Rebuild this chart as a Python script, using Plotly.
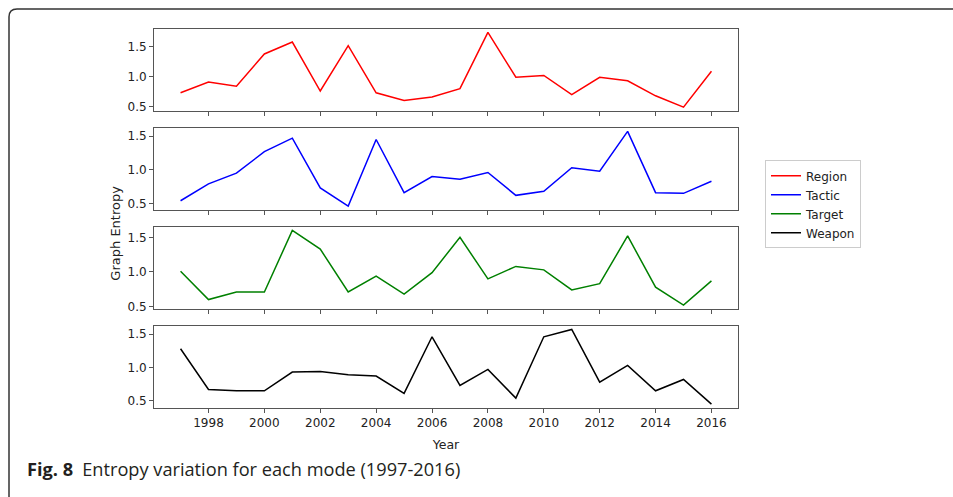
import plotly.graph_objects as go

years = list(range(1997, 2017))
region = [0.73, 0.91, 0.84, 1.38, 1.58, 0.76, 1.52, 0.73, 0.60, 0.66,
          0.80, 1.74, 0.99, 1.02, 0.70, 0.99, 0.93, 0.68, 0.49, 1.09]
tactic = [0.54, 0.79, 0.95, 1.27, 1.47, 0.73, 0.46, 1.45, 0.66, 0.90,
          0.86, 0.96, 0.62, 0.68, 1.03, 0.98, 1.57, 0.66, 0.65, 0.83]
target = [1.01, 0.60, 0.71, 0.71, 1.60, 1.33, 0.71, 0.94, 0.68, 0.99,
          1.50, 0.90, 1.08, 1.03, 0.74, 0.83, 1.52, 0.78, 0.52, 0.87]
weapon = [1.28, 0.67, 0.65, 0.65, 0.93, 0.94, 0.89, 0.87, 0.61, 1.46,
          0.73, 0.97, 0.54, 1.46, 1.57, 0.78, 1.03, 0.65, 0.82, 0.45]
series_names = ["Region", "Tactic", "Target", "Weapon"]
series_values = [region, tactic, target, weapon]
colors = ["#ff0000", "#0000ff", "#008000", "#000000"]
x_ticks = [1998, 2000, 2002, 2004, 2006, 2008, 2010, 2012, 2014, 2016]
y_ticks = [0.5, 1.0, 1.5]

W, H = 953, 497
def px(x):
    return x / W
def py(y):
    return 1 - y / H

panels = [(29, 112), (129, 212), (229, 312), (329, 412)]
x_left, x_right = 154, 738

fig = go.Figure()
layout = dict(
    width=W, height=H,
    margin=dict(l=0, r=0, t=0, b=0),
    paper_bgcolor="white", plot_bgcolor="white",
    font=dict(family="DejaVu Sans", size=12, color="#222"),
    showlegend=True,
)
span_x = years[-1] - years[0]
xr = [years[0] - 0.05 * span_x, years[-1] + 0.05 * span_x]
for i, (name, vals, col) in enumerate(zip(series_names, series_values, colors)):
    n = i + 1
    xa = "x" if n == 1 else f"x{n}"
    ya = "y" if n == 1 else f"y{n}"
    fig.add_trace(go.Scatter(x=years, y=vals, mode="lines", name=name,
                             line=dict(color=col, width=1.5),
                             xaxis=xa, yaxis=ya))
    lo, hi = min(vals), max(vals)
    sp = hi - lo
    top, bot = panels[i]
    axis_common = dict(showline=True, linecolor="#555", linewidth=1,
                       mirror=True, ticks="outside", ticklen=4,
                       tickcolor="#555", showgrid=False, zeroline=False)
    layout["xaxis" if n == 1 else f"xaxis{n}"] = dict(
        domain=[px(x_left), px(x_right)], anchor=ya, range=xr,
        tickvals=x_ticks, showticklabels=(n == 4),
        tickfont=dict(size=12, color="#222"),
        title=dict(text="Year", font=dict(size=12.5), standoff=10) if n == 4 else None,
        **axis_common)
    layout["yaxis" if n == 1 else f"yaxis{n}"] = dict(
        domain=[py(bot), py(top)], anchor=xa,
        range=[lo - 0.05 * sp, hi + 0.05 * sp],
        tickvals=y_ticks, tickformat=".1f",
        tickfont=dict(size=12, color="#222"),
        **axis_common)

fig.update_layout(**layout)
fig.update_layout(
    legend=dict(x=px(765), y=py(162), xanchor="left", yanchor="top",
                bordercolor="#cccccc", borderwidth=1, bgcolor="white",
                font=dict(family="DejaVu Sans", size=12, color="#222"),
                itemwidth=30, tracegroupgap=0),
)

fig.add_annotation(text="Graph Entropy", textangle=-90, xref="paper", yref="paper",
                   x=px(116), y=py(236), xanchor="center", yanchor="middle",
                   showarrow=False,
                   font=dict(family="DejaVu Sans", size=13, color="#222"))
fig.add_annotation(text="<b>Fig. 8</b>\u2002Entropy variation for each mode (1997-2016)",
                   xref="paper", yref="paper", x=px(25), y=py(474),
                   xanchor="left", yanchor="middle", showarrow=False,
                   font=dict(family="Open Sans", size=18.2, color="#231f20"))

path = (f"M {px(9)} {py(520)} L {px(9)} {py(17)} Q {px(9)} {py(9)} {px(17)} {py(9)} "
        f"L {px(970)} {py(9)}")
fig.add_shape(type="path", path=path, xref="paper", yref="paper",
              line=dict(color="#333333", width=1.5))

fig.write_html("out.html", config={"displayModeBar": False},
               post_script="document.body.style.margin='0';document.body.style.overflow='hidden';")
